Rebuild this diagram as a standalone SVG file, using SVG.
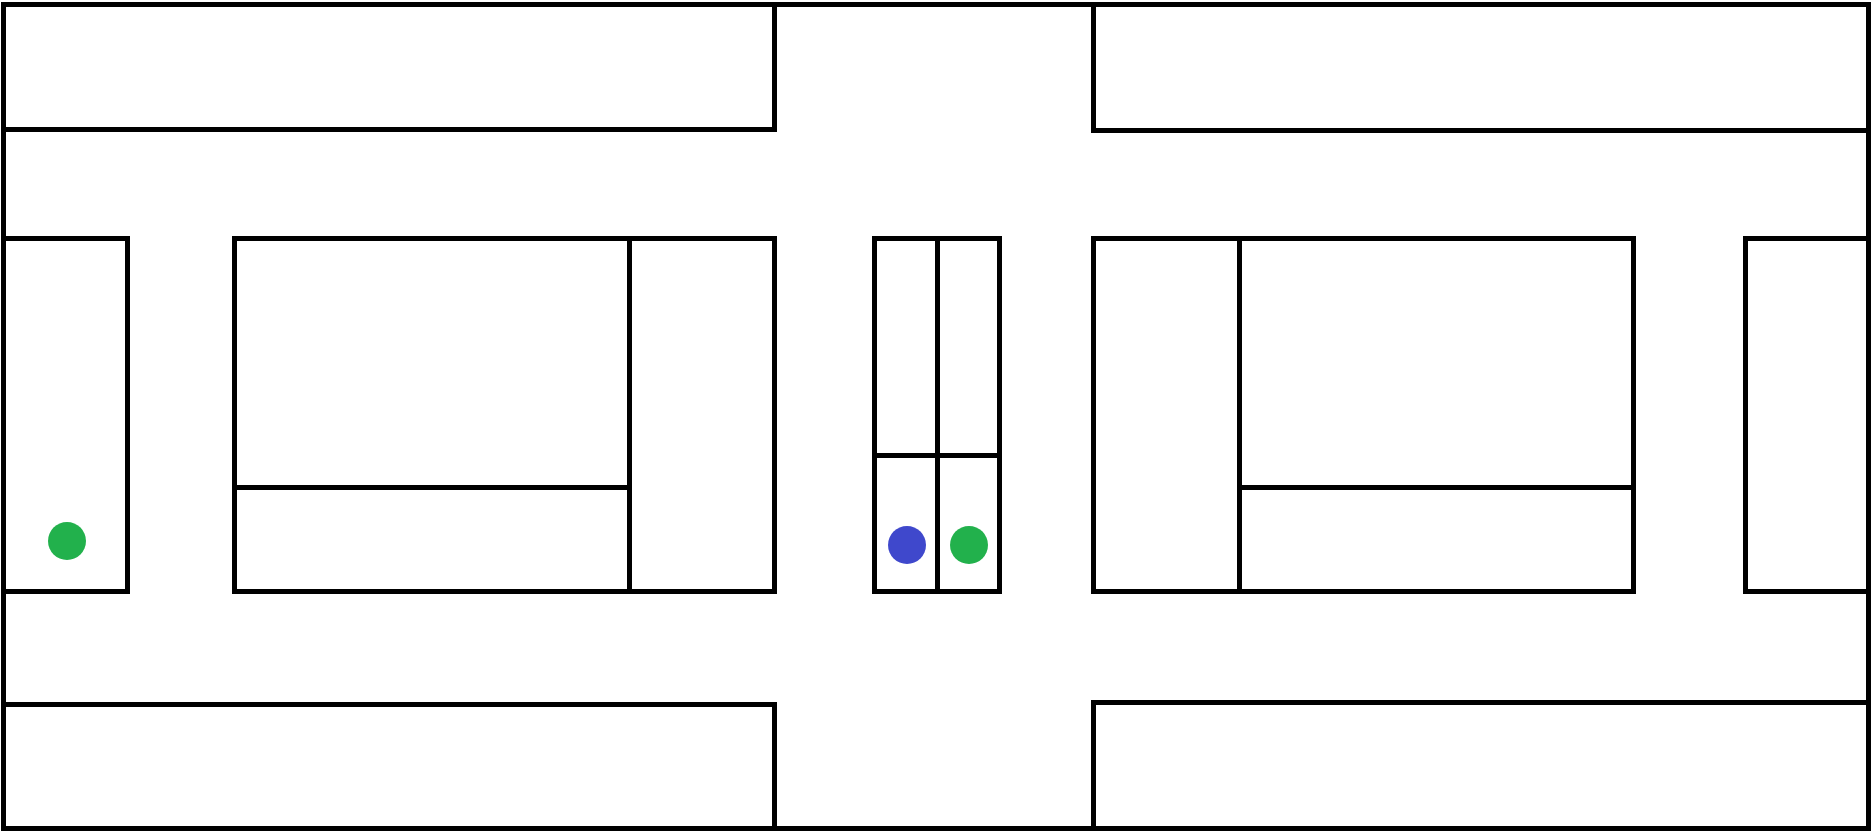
<svg xmlns="http://www.w3.org/2000/svg" width="1872" height="832" viewBox="0 0 1872 832">
<style>
.w{fill:none;stroke:#000;stroke-width:5;stroke-linejoin:miter;stroke-linecap:butt}
.g{fill:#22b14c}
.b{fill:#3f48cc}
</style>
<rect width="1872" height="832" fill="#fff"/>
<g id="outer"><rect class="w" x="3.5" y="4.5" width="1865" height="824"/></g>
<g id="block-top-left"><path class="w" d="M3.5 129.5H774.5V4.5"/></g>
<g id="block-top-right"><path class="w" d="M1093.5 4.5V130.5H1868.5"/></g>
<g id="block-bottom-left"><path class="w" d="M3.5 704.5H774.5V828.5"/></g>
<g id="block-bottom-right"><path class="w" d="M1093.5 828.5V702.5H1868.5"/></g>
<g id="block-mid-far-left"><path class="w" d="M3.5 238.5H127.5V591.5H3.5"/></g>
<g id="block-mid-left">
<rect class="w" x="234.5" y="238.5" width="540" height="353"/>
<path class="w" d="M629.5 238.5V591.5M234.5 487.5H629.5"/>
</g>
<g id="block-center">
<rect class="w" x="874.5" y="238.5" width="125" height="353"/>
<path class="w" d="M937.5 238.5V591.5M874.5 455.5H999.5"/>
</g>
<g id="block-mid-right">
<rect class="w" x="1093.5" y="238.5" width="540" height="353"/>
<path class="w" d="M1239.5 238.5V591.5M1239.5 487.5H1633.5"/>
</g>
<g id="block-mid-far-right"><path class="w" d="M1868.5 238.5H1745.5V591.5H1868.5"/></g>
<g id="dot-green-left"><circle class="g" cx="67" cy="541" r="19"/></g>
<g id="dot-blue-center"><circle class="b" cx="907" cy="545" r="19"/></g>
<g id="dot-green-center"><circle class="g" cx="969" cy="545" r="19"/></g>
<g id="connectors"></g>
</svg>
